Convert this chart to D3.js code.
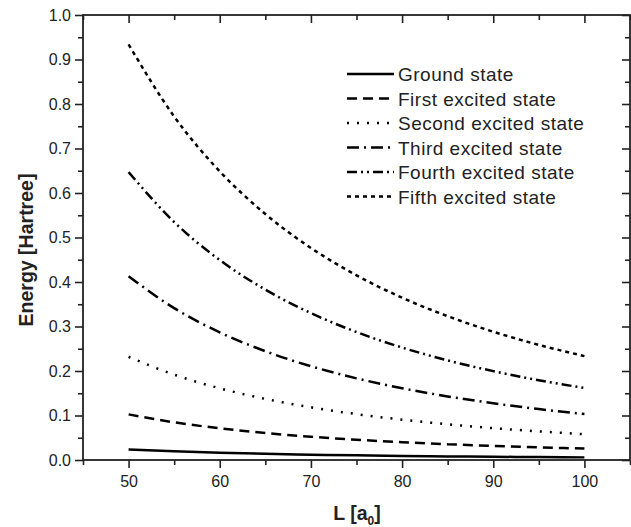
<!DOCTYPE html>
<html>
<head>
<meta charset="utf-8">
<script src="https://cdn.jsdelivr.net/npm/d3@7/dist/d3.min.js"></script>
<style>
  html, body { margin: 0; padding: 0; background: #fff; }
  svg { display: block; }
  text { font-family: "Liberation Sans", Arial, sans-serif; fill: #222; }
</style>
</head>
<body>
<svg id="chart" width="631" height="527"></svg>
<script>
// Box length L in Bohr radii
const boxLength = [50, 55, 60, 65, 70, 75, 80, 85, 90, 95, 100];

// State energies in Hartree at each box length
const groundState  = [0.0235, 0.0194, 0.0163, 0.0139, 0.0120, 0.0104, 0.0092, 0.0081, 0.0073, 0.0065, 0.0059];
const firstExcited = [0.1025, 0.0847, 0.0712, 0.0607, 0.0523, 0.0456, 0.0400, 0.0355, 0.0316, 0.0284, 0.0256];
const secondExcited= [0.232, 0.1917, 0.1611, 0.1373, 0.1184, 0.1031, 0.0906, 0.0803, 0.0716, 0.0643, 0.058];
const thirdExcited = [0.413, 0.3413, 0.2868, 0.2444, 0.2107, 0.1835, 0.1613, 0.1429, 0.1275, 0.1144, 0.1033];
const fourthExcited= [0.647, 0.5347, 0.4493, 0.3828, 0.3301, 0.2875, 0.2527, 0.2239, 0.1997, 0.1792, 0.1618];
const fifthExcited = [0.934, 0.7719, 0.6486, 0.5527, 0.4765, 0.4151, 0.3648, 0.3232, 0.2882, 0.2587, 0.2335];

const seriesNames = ["Ground state", "First excited state", "Second excited state",
                     "Third excited state", "Fourth excited state", "Fifth excited state"];
const seriesValues = [groundState, firstExcited, secondExcited, thirdExcited, fourthExcited, fifthExcited];
const dashPatterns = ["none", "10,6", "2,8", "12,5,2,5", "10,4,2,4,2,4", "4,4"];

const xTicks = [50, 60, 70, 80, 90, 100];
const yTicks = [0.0, 0.1, 0.2, 0.3, 0.4, 0.5, 0.6, 0.7, 0.8, 0.9, 1.0];

const svg = d3.select("#chart");
const plotLeft = 83, plotRight = 630, plotTop = 15, plotBottom = 460;

const x = d3.scaleLinear().domain([45, 105]).range([plotLeft, plotRight]);
const y = d3.scaleLinear().domain([0, 1]).range([plotBottom, plotTop]);

const minorX = d3.range(45, 106, 5).filter(v => !xTicks.includes(v));
const minorY = d3.range(0.05, 1, 0.1).map(v => +v.toFixed(2));

// Bottom axis: outward ticks with labels
const bottomAxis = d3.axisBottom(x).tickValues(xTicks).tickSize(8).tickPadding(8).tickFormat(d3.format("d"));
const gB = svg.append("g").attr("transform", `translate(0,${plotBottom})`).call(bottomAxis);
gB.append("g").call(d3.axisBottom(x).tickValues(minorX).tickSize(5).tickFormat(""));

// Left axis: outward ticks with labels
const leftAxis = d3.axisLeft(y).tickValues(yTicks).tickSize(8).tickPadding(4).tickFormat(d3.format(".1f"));
const gL = svg.append("g").attr("transform", `translate(${plotLeft},0)`).call(leftAxis);
gL.append("g").call(d3.axisLeft(y).tickValues(minorY).tickSize(5).tickFormat(""));

// Top and right axes: inward ticks, no labels
const gT = svg.append("g").attr("transform", `translate(0,${plotTop})`)
  .call(d3.axisBottom(x).tickValues(xTicks).tickSize(8).tickFormat(""));
gT.append("g").call(d3.axisBottom(x).tickValues(minorX).tickSize(5).tickFormat(""));
const gR = svg.append("g").attr("transform", `translate(${plotRight},0)`)
  .call(d3.axisLeft(y).tickValues(yTicks).tickSize(8).tickFormat(""));
gR.append("g").call(d3.axisLeft(y).tickValues(minorY).tickSize(5).tickFormat(""));

svg.selectAll(".domain").remove();
svg.selectAll(".tick line").attr("stroke", "#222").attr("stroke-width", 1.6);
svg.selectAll(".tick text").attr("font-size", 16).attr("fill", "#222");

// Frame
svg.append("rect")
  .attr("x", plotLeft).attr("y", plotTop)
  .attr("width", plotRight - plotLeft).attr("height", plotBottom - plotTop)
  .attr("fill", "none").attr("stroke", "#222").attr("stroke-width", 1.8);

// Curves
const line = d3.line()
  .x((d, i) => x(boxLength[i]))
  .y(d => y(d))
  .curve(d3.curveMonotoneX);

svg.append("g").selectAll("path")
  .data(seriesValues)
  .join("path")
  .attr("d", d => line(d))
  .attr("fill", "none")
  .attr("stroke", "#000")
  .attr("stroke-width", 2.5)
  .attr("stroke-dasharray", (d, i) => dashPatterns[i]);

// Legend
const legend = svg.append("g");
seriesNames.forEach((name, i) => {
  const ly = 74 + i * 24.5;
  legend.append("line")
    .attr("x1", 347).attr("x2", 394)
    .attr("y1", ly).attr("y2", ly)
    .attr("stroke", "#000").attr("stroke-width", 2.5)
    .attr("stroke-dasharray", dashPatterns[i]);
  legend.append("text")
    .attr("x", 398).attr("y", ly + 7)
    .attr("font-size", 19)
    .attr("letter-spacing", 0.5)
    .text(name);
});

// Axis titles
svg.append("text")
  .attr("transform", `translate(33,250) rotate(-90)`)
  .attr("text-anchor", "middle")
  .attr("font-size", 19.5).attr("font-weight", "bold")
  .text("Energy [Hartree]");

const xt = svg.append("text")
  .attr("x", 357).attr("y", 520)
  .attr("text-anchor", "middle")
  .attr("font-size", 19.5).attr("font-weight", "bold");
xt.append("tspan").text("L [a");
xt.append("tspan").attr("font-size", 12).attr("dy", 5).text("0");
xt.append("tspan").attr("dy", -5).text("]");
</script>
</body>
</html>
